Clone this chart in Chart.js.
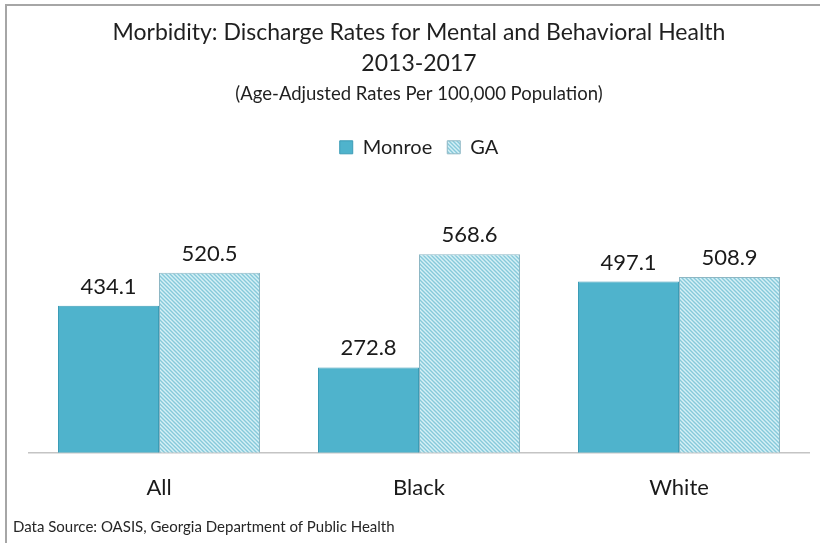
<!DOCTYPE html>
<html>
<head>
<meta charset="utf-8">
<script src="https://cdn.jsdelivr.net/npm/chart.js@4.4.1/dist/chart.umd.min.js"></script>
<style>
  html, body { margin: 0; padding: 0; background: #fff; }
  #wrap { width: 820px; height: 543px; }
</style>
</head>
<body>
<div id="wrap"><canvas id="chart" width="820" height="543"></canvas></div>
<script>
// ===== DATA =====
const categories = ['All', 'Black', 'White'];
const monroeRates = [434.1, 272.8, 497.1];
const gaRates = [520.5, 568.6, 508.9];
const seriesNames = ['Monroe', 'GA'];

const FONT = 'Lato, "Open Sans", sans-serif';

/**
 * Light blue diagonal hatch used for the GA bars
 */
function makeHatch() {
    const s = 4;
    const c = document.createElement('canvas');
    c.width = s; c.height = s;
    const g = c.getContext('2d');
    g.fillStyle = '#d6f0f6';
    g.fillRect(0, 0, s, s);
    g.strokeStyle = '#86c9da';
    g.lineWidth = 1.4;
    g.beginPath();
    g.moveTo(0, 0); g.lineTo(s, s);
    g.moveTo(-1, s - 1); g.lineTo(1, s + 1);
    g.moveTo(s - 1, -1); g.lineTo(s + 1, 1);
    g.stroke();
    return document.getElementById('chart').getContext('2d').createPattern(c, 'repeat');
}

const hatch = makeHatch();

// frame lines + source note
const framePlugin = {
    id: 'frame',
    beforeDraw(chart) {
        const ctx = chart.ctx;
        ctx.save();
        ctx.fillStyle = '#fff';
        ctx.fillRect(0, 0, chart.width, chart.height);
        ctx.strokeStyle = '#a6a6a6';
        ctx.lineWidth = 2;
        ctx.beginPath();
        ctx.moveTo(6, chart.height);
        ctx.lineTo(6, 5);
        ctx.lineTo(chart.width, 5);
        ctx.stroke();
        ctx.restore();
    },
    afterDraw(chart) {
        const ctx = chart.ctx;
        ctx.save();
        ctx.fillStyle = '#262626';
        ctx.font = '15px ' + FONT;
        ctx.textAlign = 'left';
        ctx.textBaseline = 'alphabetic';
        ctx.fillText('Data Source: OASIS, Georgia Department of Public Health', 13, 532);
        ctx.restore();
    }
};

// value labels above each bar
const valueLabels = {
    id: 'valueLabels',
    afterDatasetsDraw(chart) {
        const ctx = chart.ctx;
        ctx.save();
        ctx.fillStyle = '#1a1a1a';
        ctx.font = '22px ' + FONT;
        ctx.textAlign = 'center';
        ctx.textBaseline = 'alphabetic';
        chart.data.datasets.forEach((ds, i) => {
            chart.getDatasetMeta(i).data.forEach((bar, j) => {
                ctx.fillText(ds.data[j].toFixed(1), bar.x, bar.y - 12);
            });
        });
        ctx.restore();
    }
};

new Chart(document.getElementById('chart'), {
    type: 'bar',
    data: {
        labels: categories,
        datasets: [
            {
                label: seriesNames[0],
                data: monroeRates,
                backgroundColor: '#4fb3cc',
                borderColor: '#3b9cb6',
                borderWidth: 1
            },
            {
                label: seriesNames[1],
                data: gaRates,
                backgroundColor: hatch,
                borderColor: '#8db7c4',
                borderWidth: 1
            }
        ]
    },
    options: {
        responsive: false,
        animation: false,
        layout: {
            padding: { left: 29, right: 11, top: 0, bottom: 28 }
        },
        datasets: {
            bar: { categoryPercentage: 0.777, barPercentage: 1.0 }
        },
        plugins: {
            title: {
                display: true,
                text: ['Morbidity: Discharge Rates for Mental and Behavioral Health', '2013-2017'],
                color: '#1f1f1f',
                font: { family: FONT, size: 23, weight: 'normal', lineHeight: 1.35 },
                padding: { top: 17, bottom: 0 }
            },
            subtitle: {
                display: true,
                text: '(Age-Adjusted Rates Per 100,000 Population)',
                color: '#1f1f1f',
                font: { family: FONT, size: 18.5, weight: 'normal', lineHeight: 1.2 },
                padding: { top: 4, bottom: 17 }
            },
            legend: {
                position: 'top',
                labels: {
                    color: '#1f1f1f',
                    font: { family: FONT, size: 20 },
                    boxWidth: 13,
                    boxHeight: 13,
                    padding: 15
                }
            },
            tooltip: { enabled: false }
        },
        scales: {
            x: {
                grid: { display: false },
                border: { display: true, color: '#c4c4c4', width: 1.5 },
                ticks: {
                    color: '#1a1a1a',
                    font: { family: FONT, size: 22 },
                    padding: 14
                }
            },
            y: {
                display: false,
                min: 50,
                max: 796
            }
        }
    },
    plugins: [framePlugin, valueLabels]
});
</script>
</body>
</html>
